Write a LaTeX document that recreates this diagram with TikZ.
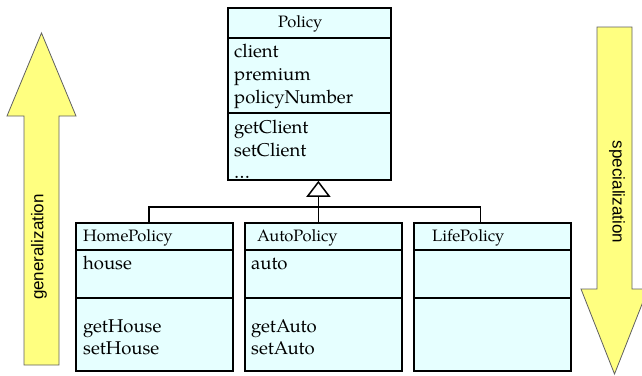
\documentclass[tikz,border=0pt]{standalone}
\usepackage{fontspec}
\setmainfont{TeX Gyre Pagella}
\setsansfont{Liberation Sans}
\usepackage{tikz}
\usetikzlibrary{arrows.meta}

\definecolor{classfill}{HTML}{E6FFFF}
\definecolor{arrowfill}{HTML}{FFFF80}
\definecolor{arrowline}{HTML}{606060}

\tikzset{
    compart/.style={draw=black, line width=1.8pt, fill=classfill, anchor=north west, inner sep=0pt},
    classname/.style={font=\fontsize{16.5}{20}\selectfont, inner sep=0pt, anchor=base west},
    member/.style={font=\fontsize{18.5}{23}\selectfont, inner sep=0pt, anchor=base west},
    bigarrow/.style={draw=arrowline, fill=arrowfill, line width=0.8pt},
    arrowtext/.style={font=\sffamily\fontsize{17}{20}\selectfont},
    inherit/.style={line width=1.5pt},
}

\begin{document}
\begin{tikzpicture}[x=1pt, y=-1pt]
    \useasboundingbox (0,0) rectangle (642,375);

    %Big arrows on both sides
    \filldraw[bigarrow] (24,365) -- (24,116) -- (7,116) -- (41.5,33) -- (76,116) -- (59,116) -- (59,365) -- cycle;
    \node[arrowtext, rotate=90] (gen) at (39,247) {generalization};

    \filldraw[bigarrow] (597,27) -- (632,27) -- (632,289) -- (648,289) -- (614.5,374) -- (581,289) -- (597,289) -- cycle;
    \node[arrowtext, rotate=-90] (spec) at (617,192) {specialization};

    %Policy class
    \node[compart, minimum width=163pt, minimum height=30pt] (policyname) at (227,7) {};
    \node[compart, minimum width=163pt, minimum height=75pt] (policyattr) at (227,37) {};
    \node[compart, minimum width=163pt, minimum height=67pt] (policyops) at (227,112) {};
    \node[classname] (policytitle) at (278,27) {Policy};

    \foreach \txt [count=\i] in {client,premium,policyNumber}
        \node[member] (policyattr\i) at (234,34+23*\i) {\txt};
    \foreach \txt [count=\i] in {getClient,setClient}
        \node[member] (policyops\i) at (234,110+23*\i) {\txt};
    \node[member] (policyops3) at (234,178) {\ldots};

    %Subclasses
    \foreach \x/\n/\title/\ind in {75/home/HomePolicy/8, 244/auto/AutoPolicy/13, 413/life/LifePolicy/19}{
        \node[compart, minimum width=157pt, minimum height=27pt] (\n name) at (\x,222) {};
        \node[compart, minimum width=157pt, minimum height=48pt] (\n attr) at (\x,249) {};
        \node[compart, minimum width=157pt, minimum height=73pt] (\n ops) at (\x,297) {};
        \node[classname] (\n title) at (\x+\ind,241) {\title};
    }

    \node[member] (homeattr1) at (83,269) {house};
    \node[member] (homeops1) at (83,332) {getHouse};
    \node[member] (homeops2) at (83,354) {setHouse};

    \node[member] (autoattr1) at (251,269) {auto};
    \node[member] (autoops1) at (251,332) {getAuto};
    \node[member] (autoops2) at (251,354) {setAuto};

    %Inheritance
    \coordinate (homeend) at ([xshift=-5.5pt]homename.north);
    \coordinate (autoend) at ([xshift=-5pt]autoname.north);
    \coordinate (lifeend) at ([xshift=-12pt]lifename.north);

    \draw[inherit] (homeend) -- ++(0,-15) -| (lifeend);
    \draw[inherit, -{Triangle[open, length=16pt, width=24pt]}] (autoend) -- (autoend |- policyops.south);

\end{tikzpicture}
\end{document}
